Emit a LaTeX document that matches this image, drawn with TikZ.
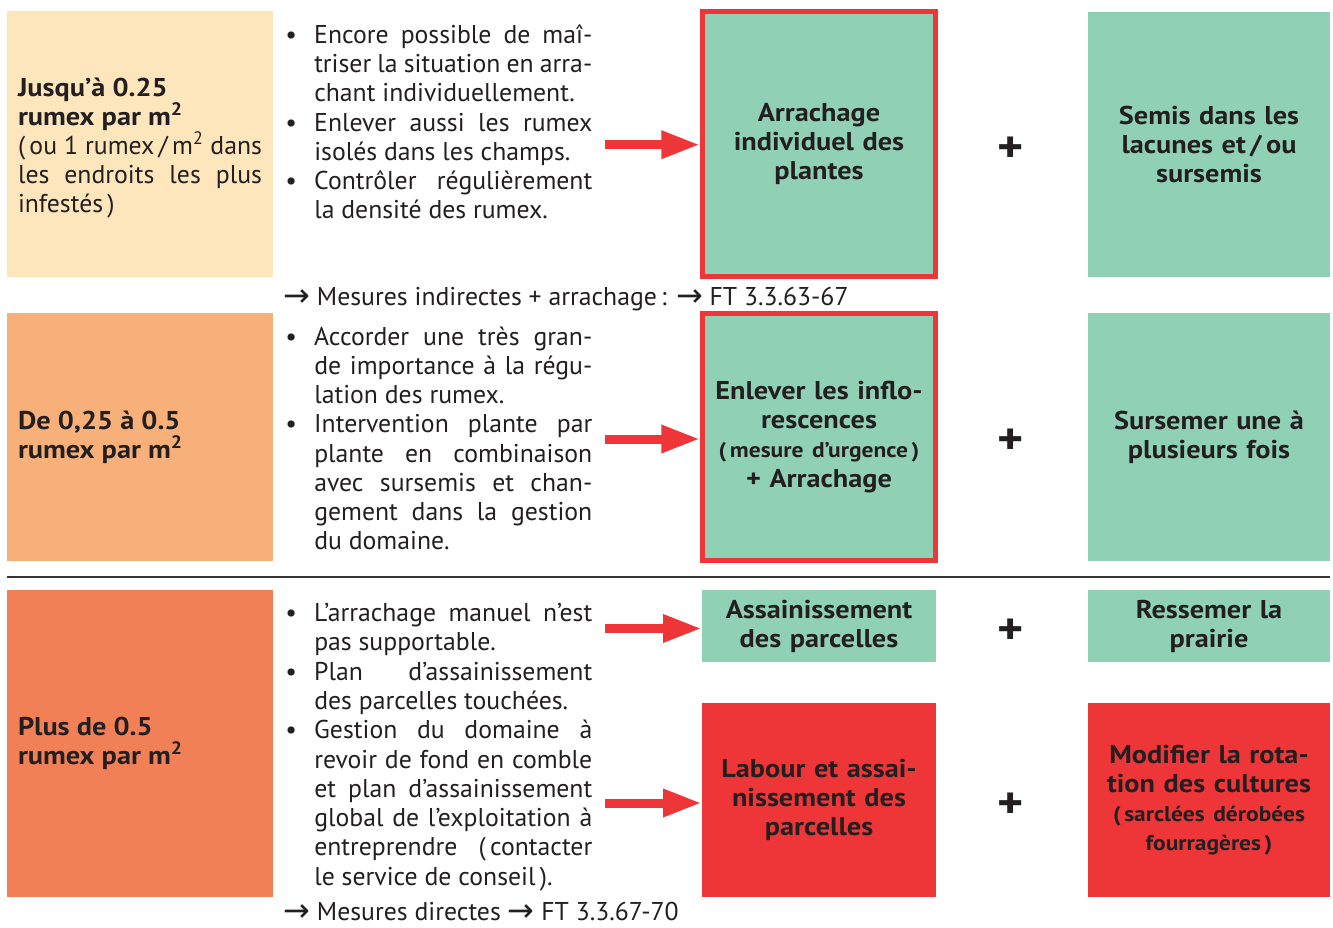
\documentclass[tikz,border=0pt]{standalone}
\usepackage{fontspec}
\setmainfont{PT Sans}[BoldFeatures={FakeStretch=1.1}]
\newfontfamily\arrowfont{DejaVu Sans}
\usetikzlibrary{arrows.meta}
\definecolor{lightpeach}{RGB}{253,229,188}
\definecolor{peach}{RGB}{248,176,122}
\definecolor{salmon}{RGB}{242,128,87}
\definecolor{mint}{RGB}{144,209,182}
\definecolor{alarm}{RGB}{238,53,55}
\definecolor{ink}{RGB}{35,31,32}
\hyphenpenalty=10000
\tolerance=10000
\newcommand{\puce}{\hangindent=21.75pt\hangafter=1\noindent\makebox[21.75pt][l]{\textbullet}}
\newcommand{\fleche}{{\arrowfont\fontsize{24}{24}\selectfont\raisebox{-1pt}{→}}}

\begin{document}
\begin{tikzpicture}[x=0.75pt,y=0.75pt,yscale=-1,xscale=1,
  rangebox/.style={inner sep=8.25pt, text width=183pt, minimum width=199.5pt, align=justify, text=ink, font=\fontsize{19.3}{21.9}\selectfont},
  bullets/.style={anchor=base west, inner sep=0pt, text width=230.25pt, align=justify, text=ink, font=\fontsize{19.3}{21.95}\selectfont},
  actbox/.style={fill=mint, inner sep=0pt, text width=170pt, align=center, text=ink, font=\fontsize{19.3}{21.8}\selectfont\bfseries},
  addbox/.style={actbox, text width=175pt, minimum width=181.5pt},
  alertframe/.style={draw=alarm, line width=3.5pt},
  redarrow/.style={draw=alarm, line width=6.75pt, -{Triangle[length=29pt,width=19.5pt]}},
  plus/.style={text=ink, inner sep=0pt, font=\fontsize{34}{34}\selectfont\bfseries},
  footer/.style={anchor=base west, inner sep=0pt, text=ink, font=\fontsize{19.3}{21.9}\selectfont}]
\useasboundingbox (0,0) rectangle (1333,927);

%Shape: Rectangle [id:dens1]
\node[rangebox, fill=lightpeach, minimum height=199.5pt] (dens1) at (140,144) {\textbf{Jusqu’à 0.25}\\ \textbf{rumex par m\textsuperscript{2}}\\ (\,ou 1 rumex\,/\,m\textsuperscript{2} dans\linebreak les endroits les plus\linebreak infestés\,)\par\vspace*{-6pt}};
%Shape: Rectangle [id:dens2]
\node[rangebox, fill=peach, minimum height=186pt] (dens2) at (140,437) {\bfseries De 0,25 à 0.5\\ rumex par m\textsuperscript{2}};
%Shape: Rectangle [id:dens3]
\node[rangebox, fill=salmon, minimum height=230.25pt] (dens3) at (140,743.5) {\bfseries Plus de 0.5\\ rumex par m\textsuperscript{2}};

% Text Node
\node[bullets] (note1) at (285,43.3) {\puce Encore possible de maî-\linebreak triser la situation en arra-\linebreak chant individuellement.\par
\puce Enlever aussi les rumex\linebreak isolés dans les champs.\par
\puce Contrôler régulièrement\linebreak la densité des rumex.\par};
% Text Node
\node[bullets] (note2) at (285,345) {\puce Accorder une très gran-\linebreak de importance à la régu-\linebreak lation des rumex.\par
\puce Intervention plante par\linebreak plante en combinaison\linebreak avec sursemis et chan-\linebreak gement dans la gestion\linebreak du domaine.\par};
% Text Node
\node[bullets] (note3) at (285,621.7) {\puce L’arrachage manuel n’est\linebreak pas supportable.\par
\puce Plan d’assainissement\linebreak des parcelles touchées.\par
\puce Gestion du domaine à\linebreak revoir de fond en comble\linebreak et plan d’assainissement\linebreak global de l’exploitation à\linebreak entreprendre (\,contacter\linebreak le service de conseil\,).\par};

% Text Node
\node[footer] (ref1) at (283,305) {\fleche\ Mesures indirectes + arrachage\,: \fleche\ FT 3.3.63-67};
% Text Node
\node[footer] (ref2) at (283,920) {\fleche\ Mesures directes \fleche\ FT 3.3.67-70};

%Shape: Rectangle [id:act1]
\node[actbox, alertframe, minimum width=175pt, minimum height=199pt] (act1) at (819,144) {Arrachage\\ individuel des\\ plantes};
%Shape: Rectangle [id:act2]
\node[actbox, alertframe, minimum width=175pt, minimum height=185.5pt] (act2) at (819,437) {Enlever les inflo-\\ rescences\\ {\fontsize{16}{21.8}\selectfont(\,mesure d’urgence\,)}\\ + Arrachage};
%Shape: Rectangle [id:act3]
\node[actbox, minimum width=175.5pt, minimum height=54pt] (act3) at (819,626) {Assainissement\\ des parcelles};
%Shape: Rectangle [id:act4]
\node[actbox, fill=alarm, minimum width=175.5pt, minimum height=145.5pt] (act4) at (819,800) {Labour et assai-\\ nissement des\\ parcelles};

%Shape: Rectangle [id:add1]
\node[addbox, minimum height=198.75pt] (add1) at (1209,144.5) {Semis dans les\\ lacunes et\,/\,ou\\ sursemis};
%Shape: Rectangle [id:add2]
\node[addbox, minimum height=186pt] (add2) at (1209,437) {Sursemer une à\\ plusieurs fois};
%Shape: Rectangle [id:add3]
\node[addbox, minimum height=54pt] (add3) at (1209,626) {Ressemer la\\ prairie};
%Shape: Rectangle [id:add4]
\node[addbox, fill=alarm, minimum height=145.5pt] (add4) at (1209,800) {Modifier la rota-\\ tion des cultures\\ {\fontsize{16}{21.8}\selectfont(\,sarclées dérobées\\ fourragères\,)}};

% Text Node
\node[plus] (plus1) at (1011,150) {+};
\node[plus] (plus2) at (1011,442) {+};
\node[plus] (plus3) at (1011,632) {+};
\node[plus] (plus4) at (1011,806) {+};

%Straight Lines [id:arrows]
\coordinate (a1) at (605,144.7);
\coordinate (a2) at (605,439);
\coordinate (a3) at (605,628.5);
\coordinate (a4) at (605,803);
\draw[redarrow] (a1) -- (a1 -| act1.west);
\draw[redarrow] (a2) -- (a2 -| act2.west);
\draw[redarrow] (a3) -- (a3 -| act3.west);
\draw[redarrow] (a4) -- (a4 -| act4.west);

%Straight Lines [id:separator]
\draw[color=ink!90, line width=1pt] (7,577) -- (1330,577);
\end{tikzpicture}
\end{document}
